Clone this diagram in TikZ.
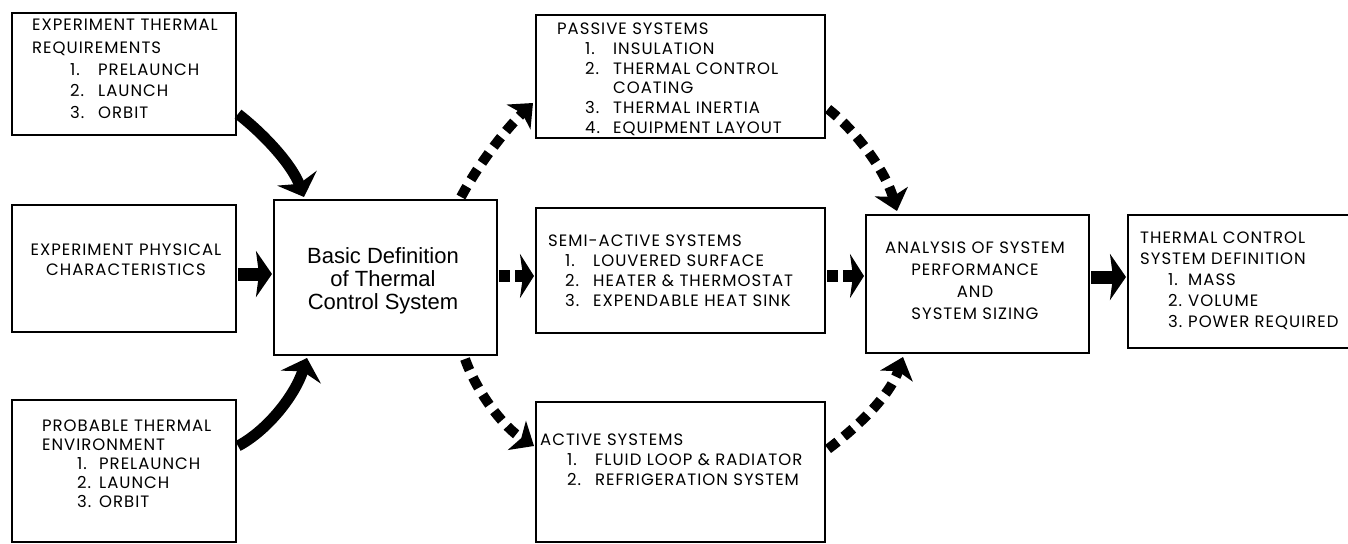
\documentclass[tikz,border=0pt]{standalone}
\usepackage{fontspec}
\newfontfamily\boxfont[LetterSpace=6]{Poppins}
\newfontfamily\basicfont{Liberation Sans}
\usetikzlibrary{arrows.meta,calc}
\newcommand\Ltext[2]{\vtop{\baselineskip=#1\relax\lineskiplimit=-40pt\halign{##\hfil\cr#2\crcr}}}
\newcommand\Ctext[2]{\vtop{\baselineskip=#1\relax\lineskiplimit=-40pt\halign{\hfil##\hfil\cr#2\crcr}}}
\newcommand\nitem[3]{\hskip#1\relax\makebox[#2][l]{#3}}
\begin{document}
\begin{tikzpicture}[x=1pt,y=-1pt,
  box/.style={draw,line width=2pt,inner sep=0pt},
  txt/.style={inner sep=0pt,font=\boxfont\fontsize{16.5}{20}\selectfont},
  solidcurve/.style={line width=11pt,-{Stealth[length=20pt,width=42pt,inset=6pt]}},
  solidstraight/.style={line width=13pt,-{Stealth[length=16pt,width=46pt,inset=3pt]}},
  dashcurve/.style={line width=10pt,dash pattern=on 12pt off 8pt,-{Stealth[length=20pt,width=34pt,inset=5pt]}},
  dashstraight/.style={line width=12pt,dash pattern=on 11pt off 5pt,-{Stealth[length=14pt,width=44pt,inset=3pt]}}
]
\useasboundingbox (0,0) rectangle (1348,543);
% boxes
\node[box,minimum width=224pt,minimum height=122pt] (req) at (124,74) {};
\node[box,minimum width=224pt,minimum height=127pt] (phys) at (124,268.5) {};
\node[box,minimum width=224pt,minimum height=142pt] (env) at (124,471) {};
\node[box,minimum width=223pt,minimum height=155pt] (basic) at (385.5,277.5) {};
\node[box,minimum width=289pt,minimum height=123pt] (passive) at (680.5,76.5) {};
\node[box,minimum width=289pt,minimum height=125pt] (semi) at (680.5,270.5) {};
\node[box,minimum width=289pt,minimum height=140pt] (active) at (680.5,472) {};
\node[box,minimum width=223pt,minimum height=138pt] (anal) at (977.5,284) {};
\node[box,minimum width=222pt,minimum height=133pt] (final) at (1239,281.5) {};
% texts
\node[txt,anchor=base west] (req-t) at (32,31) {\Ltext{22pt}{EXPERIMENT THERMAL\cr REQUIREMENTS\cr
  \nitem{38pt}{28pt}{1.}PRELAUNCH\cr \nitem{38pt}{28pt}{2.}LAUNCH\cr \nitem{38pt}{28pt}{3.}ORBIT\cr}};
\node[txt,anchor=base] (phys-t) at (126,255) {\Ctext{20pt}{EXPERIMENT PHYSICAL\cr CHARACTERISTICS\cr}};
\node[txt,anchor=base west] (env-t) at (42,431) {\Ltext{19pt}{PROBABLE THERMAL\cr ENVIRONMENT\cr
  \nitem{35pt}{22pt}{1.}PRELAUNCH\cr \nitem{35pt}{22pt}{2.}LAUNCH\cr \nitem{35pt}{22pt}{3.}ORBIT\cr}};
\node[anchor=base,inner sep=0pt,font=\basicfont\fontsize{22}{23}\selectfont] (basic-t) at (383,263)
  {\Ctext{23pt}{Basic Definition\cr of Thermal\cr Control System\cr}};
\node[txt,anchor=base west] (passive-t) at (557,35) {\Ltext{19.6pt}{PASSIVE SYSTEMS\cr
  \nitem{28pt}{28pt}{1.}INSULATION\cr \nitem{28pt}{28pt}{2.}THERMAL CONTROL\cr
  \nitem{56pt}{0pt}{}COATING\cr \nitem{28pt}{28pt}{3.}THERMAL INERTIA\cr
  \nitem{28pt}{28pt}{4.}EQUIPMENT LAYOUT\cr}};
\node[txt,anchor=base west] (semi-t) at (548,246) {\Ltext{20.3pt}{SEMI-ACTIVE SYSTEMS\cr
  \nitem{17pt}{28pt}{1.}LOUVERED SURFACE\cr \nitem{17pt}{28pt}{2.}HEATER \& THERMOSTAT\cr
  \nitem{17pt}{28pt}{3.}EXPENDABLE HEAT SINK\cr}};
\node[txt,anchor=base west] (active-t) at (540,445) {\Ltext{20pt}{ACTIVE SYSTEMS\cr
  \nitem{27pt}{28pt}{1.}FLUID LOOP \& RADIATOR\cr \nitem{27pt}{28pt}{2.}REFRIGERATION SYSTEM\cr}};
\node[txt,anchor=base] (anal-t) at (975,253) {\Ctext{22.3pt}{ANALYSIS OF SYSTEM\cr PERFORMANCE\cr AND\cr SYSTEM SIZING\cr}};
\node[txt,anchor=base west] (final-t) at (1140,243) {\Ltext{21.2pt}{THERMAL CONTROL\cr SYSTEM DEFINITION\cr
  \nitem{28pt}{20pt}{1.}MASS\cr \nitem{28pt}{20pt}{2.}VOLUME\cr \nitem{28pt}{20pt}{3.}POWER REQUIRED\cr}};
% solid arrows
\draw[solidcurve] ($(req.north east)+(1,102)$) .. controls (265,135) and (292,165) .. ($(basic.north west)+(31,-2)$);
\draw[solidstraight] ($(phys.north east)+(1,70)$) -- ($(basic.north west)+(-1,75)$);
\draw[solidcurve] ($(env.north east)+(1,47)$) .. controls (268,430) and (295,395) .. ($(basic.south west)+(34,2)$);
\draw[solidstraight] ($(anal.north east)+(1,63)$) -- ($(final.north west)+(-1,63)$);
% dashed arrows
\draw[dashcurve] ($(basic.north west)+(188,-2)$) .. controls (478,165) and (505,130) .. ($(passive.north west)+(-2,89)$);
\draw[dashstraight] ($(basic.north east)+(1,77)$) -- ($(semi.north west)+(-1,69)$);
\draw[dashcurve] ($(basic.south west)+(192,3)$) .. controls (478,395) and (505,428) .. ($(active.north west)+(-1,45)$);
\draw[dashcurve] ($(passive.north east)+(2,95)$) .. controls (855,130) and (885,170) .. ($(anal.north west)+(32,-3)$);
\draw[dashstraight] ($(semi.north east)+(1,69)$) -- ($(anal.north west)+(-1,62)$);
\draw[dashcurve] ($(active.north east)+(2,48)$) .. controls (860,425) and (890,395) .. ($(anal.south west)+(38,3)$);
\end{tikzpicture}
\end{document}
